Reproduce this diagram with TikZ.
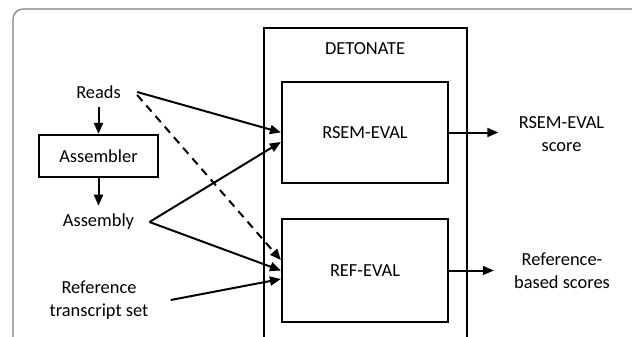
\documentclass[tikz,border=0pt]{standalone}
\usepackage{fontspec}
\setmainfont{Carlito}
\usetikzlibrary{arrows.meta}

\begin{document}
\begin{tikzpicture}[x=0.5pt,y=-0.5pt,
  font=\fontsize{9.2}{11.5}\selectfont,
  box/.style={draw,line width=1.1pt,minimum width=83pt,minimum height=50.5pt},
  txt/.style={align=center,inner ysep=4pt},
  arr/.style={line width=1pt,-{Triangle[length=5.5pt,width=4.5pt]}}]
  \useasboundingbox (0,0) rectangle (632,337);
  % outer frame
  \draw[gray,line width=0.6pt,rounded corners=5pt] (13,337) -- (13,9) -- (632,9);
  % DETONATE
  \draw[line width=1.1pt] (264,337) -- (264,28) -- (467,28) -- (467,337);
  \node (detonate) at (365,49) {DETONATE};

  \node[txt,inner xsep=8pt] (reads) at (98.5,92) {Reads};
  \node[draw,line width=1.1pt,minimum width=59.5pt,minimum height=21pt] (assembler) at (98.5,156) {Assembler};
  \node[txt,inner xsep=7.5pt] (assembly) at (98.5,222) {Assembly};
  \node[txt,inner xsep=11pt] (reftx) at (99,300) {Reference\\transcript set};
  \node[box] (rsem) at (365,132.5) {RSEM-EVAL};
  \node[box,minimum height=51.5pt] (refeval) at (365,270.5) {REF-EVAL};
  \node[txt,inner xsep=10pt] (rsemscore) at (561.5,134) {RSEM-EVAL\\score};
  \node[txt,inner xsep=10pt] (refscore) at (562,271) {Reference-\\based scores};

  \draw[arr] (reads) -- (assembler);
  \draw[arr] (assembler) -- (assembly);
  \draw[arr] (reads.east) -- (rsem.west);
  \draw[arr] (assembly.east) -- ([yshift=-4.75pt]rsem.west);
  \draw[arr,dash pattern=on 4pt off 3pt] ([yshift=-1.5pt]reads.east) -- ([yshift=5.25pt]refeval.west);
  \draw[arr] (assembly.east) -- (refeval.west);
  \draw[arr] (reftx.east) -- ([yshift=-4.25pt]refeval.west);
  \draw[arr] (rsem.east) -- (rsem.east -| rsemscore.west);
  \draw[arr] (refeval.east) -- (refeval.east -| refscore.west);
\end{tikzpicture}
\end{document}
